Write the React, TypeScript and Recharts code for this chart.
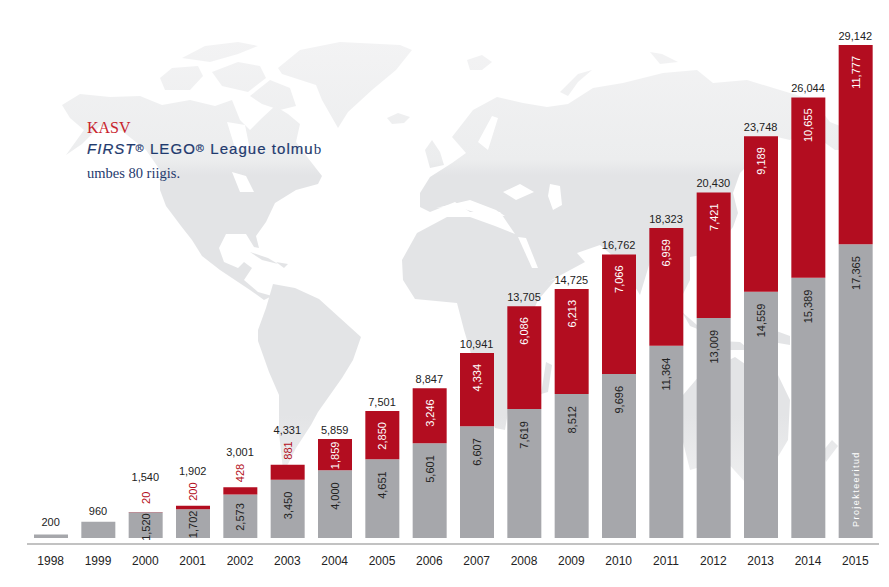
import { ComposedChart, Bar, Line, XAxis, YAxis, LabelList } from 'recharts';

const years = ['1998', '1999', '2000', '2001', '2002', '2003', '2004', '2005', '2006', '2007', '2008', '2009', '2010', '2011', '2012', '2013', '2014', '2015'];
const existing = [200, 960, 1520, 1702, 2573, 3450, 4000, 4651, 5601, 6607, 7619, 8512, 9696, 11364, 13009, 14559, 15389, 17365];
const growth = [0, 0, 20, 200, 428, 881, 1859, 2850, 3246, 4334, 6086, 6213, 7066, 6959, 7421, 9189, 10655, 11777];
const totals = [200, 960, 1540, 1902, 3001, 4331, 5859, 7501, 8847, 10941, 13705, 14725, 16762, 18323, 20430, 23748, 26044, 29142];
const notes = ['', '', '', '', '', '', '', '', '', '', '', '', '', '', '', '', '', 'Projekteeritud'];

const chartData = years.map((year, i) => ({
  year,
  existing: existing[i],
  growth: growth[i],
  total: totals[i],
  note: notes[i],
}));

const GREY = '#a6a7ab';
const RED = '#b30d20';
const INK = '#222222';
const SANS = '"Liberation Sans", Arial, sans-serif';
const SERIF = '"Liberation Serif", "Times New Roman", serif';

// background map, only a rough trace of the continents
const land = [
  // North and Central America
  'M62 105L80 94L110 97L140 96L162 105L190 100L215 106L232 100L240 120L250 130L262 118L275 106L288 114L300 124L296 142L308 158L322 176L318 184L296 190L275 203L266 222L256 236L259 248L254 247L246 234L226 234L219 248L224 262L238 268L244 262L252 268L244 280L258 292L272 296L264 300L250 290L238 282L220 270L202 256L192 240L181 226L166 206L160 190L160 170L146 150L122 131L100 126L82 144L66 155L84 130L70 118Z',
  // Canadian arctic islands
  'M160 78L172 68L198 66L203 76L190 90L165 90Z',
  'M182 58L205 46L238 42L258 46L238 54L210 62Z',
  'M212 72L238 62L260 66L266 78L248 92L222 86Z',
  'M250 96L270 80L290 88L296 106L280 110L262 104Z',
  // Cuba and Hispaniola
  'M250 252L268 258L278 264L262 260Z',
  'M276 262L288 264L284 268Z',
  // Greenland
  'M278 68L300 50L340 42L400 45L412 50L396 70L372 90L348 112L338 128L322 100L316 85L282 74Z',
  // Iceland
  'M387 118L398 113L410 117L404 123L392 124Z',
  // South America
  'M258 330L266 308L273 284L295 288L319 299L340 318L361 337L353 360L342 378L330 395L318 412L311 425L296 448L288 464L283 470L279 433L279 395L269 372L258 341Z',
  // Europe, Asia and Africa
  'M420 207L420 193L430 177L452 163L466 153L452 137L473 110L497 97L523 103L547 107L568 104L593 88L623 83L663 73L697 70L713 83L747 80L780 90L813 100L830 122L850 130L860 150L835 150L807 130L790 140L777 137L758 155L740 173L733 193L738 213L733 227L713 253L690 257L690 280L680 300L668 282L650 262L640 295L620 262L600 245L577 253L585 262L548 282L557 278L538 300L520 340L522 365L510 400L505 430L495 428L480 392L470 350L464 330L457 303L415 299L403 280L402 260L417 233L447 217L470 217L495 226L515 234L500 212L470 212L455 202L430 212Z',
  // British Isles
  'M425 150L432 140L440 152L444 165L430 168Z',
  // Svalbard and Novaya Zemlya
  'M467 60L482 55L492 62L482 70L470 70Z',
  'M650 52L662 54L678 62L660 64Z',
  'M560 92L578 74L592 70L578 82L568 96Z',
  // Madagascar
  'M546 362L552 365L548 392L541 394Z',
  // Japan
  'M760 190L768 185L770 205L752 222L745 222L755 212Z',
  // Indonesia and Philippines
  'M682 312L705 332L690 326Z',
  'M700 340L740 342L750 350L712 350Z',
  'M718 286L726 288L730 312L720 310Z',
  'M752 322L790 336L790 345L760 340Z',
  // Australia
  'M683 395L700 375L735 357L745 364L766 350L790 400L788 440L770 470L745 482L725 460L690 470L680 430Z',
  // New Zealand
  'M822 452L832 440L838 446L826 462Z',
];

// seas cut back out of the land
const water = [
  'M436 208L470 200L496 210L505 216L480 214L455 206Z', // Mediterranean
  'M503 192L520 184L534 192L516 200Z', // Black Sea
  'M550 184L560 186L562 205L553 210L548 196Z', // Caspian
  'M518 237L526 238L538 268L532 268Z', // Red Sea
  'M478 142L492 116L498 118L488 150Z', // Baltic
  'M232 172L246 176L254 192L240 192Z', // Great Lakes
  'M227 122L245 125L250 150L235 148Z', // Hudson Bay
];

function WorldMap() {
  return (
    <svg width={889} height={587} style={{ position: 'absolute', left: 0, top: 0 }}>
      <defs>
        <linearGradient id="landFade" gradientUnits="userSpaceOnUse" x1="0" y1="40" x2="0" y2="540">
          <stop offset="0" stopColor="#f3f3f4" />
          <stop offset="0.24" stopColor="#ecedee" />
          <stop offset="0.27" stopColor="#e3e4e6" />
          <stop offset="0.75" stopColor="#e3e4e6" />
          <stop offset="1" stopColor="#f7f7f7" />
        </linearGradient>
      </defs>
      {land.map((d) => (
        <path key={d} d={d} fill="url(#landFade)" />
      ))}
      {water.map((d) => (
        <path key={d} d={d} fill="#ffffff" />
      ))}
      <text x={87} y={133} fontFamily={SERIF} fontSize={16} fill="#c8232c">KASV</text>
      <text x={87} y={154} fontFamily={SANS} fontSize={15} fill="#1f3a6e" stroke="#1f3a6e" strokeWidth={0.2} letterSpacing={1.05}>
        <tspan fontStyle="italic">FIRST</tspan>
        <tspan fontSize={11} dy={-2}>®</tspan>
        <tspan dy={2}> LEGO</tspan>
        <tspan fontSize={11} dy={-2}>®</tspan>
        <tspan dy={2}> League tolmu</tspan>
        <tspan fontFamily={SERIF} stroke="none" letterSpacing={0}>b</tspan>
      </text>
      <text x={87} y={178} fontFamily={SERIF} fontSize={14.5} fill="#1f3a6e">umbes 80 riigis.</text>
    </svg>
  );
}

function upright(x: number, y: number, text: string, fill: string, anchor = 'end') {
  return (
    <text
      x={x}
      y={y}
      transform={`rotate(-90 ${x} ${y})`}
      textAnchor={anchor}
      dominantBaseline="central"
      fontFamily={SANS}
      fontSize={11}
      fill={fill}
    >
      {text}
    </text>
  );
}

// value sits near the top of its block, centred when the block is short
const insetFor = (height: number, text: string, most: number) =>
  Math.min(most, Math.max(1, (height - text.length * 5.2) / 2));

function ExistingLabel({ x, y, width, height, value }: any) {
  if (value < 1000) return null;
  const text = Number(value).toLocaleString('en-US');
  return upright(x + width / 2, y + insetFor(height, text, 12), text, INK);
}

// zero height blocks get dropped by the bar, so go by value and not by index here
function GrowthLabel({ x, y, width, height, value }: any) {
  if (!value) return null;
  const text = Number(value).toLocaleString('en-US');
  if (value < 1000) return upright(x + width / 2, y - (value < 100 ? 8 : 5), text, RED, 'start');
  return upright(x + width / 2, y + insetFor(height, text, 11), text, '#ffffff');
}

function TotalLabel({ x, y, index, value }: any) {
  let gap = 5;
  if (index === 0) gap = 9;
  else if (index === 1) gap = 7;
  else if (growth[index] < 1000) gap = 31;
  return (
    <text x={x} y={y - gap} textAnchor="middle" fontFamily={SANS} fontSize={11} fill={INK}>
      {Number(value).toLocaleString('en-US')}
    </text>
  );
}

function NoteLabel({ x, y, width, height, value }: any) {
  if (!value) return null;
  const bx = x + width / 2;
  const by = y + height - 11;
  return (
    <text
      x={bx}
      y={by}
      transform={`rotate(-90 ${bx} ${by})`}
      dominantBaseline="central"
      fontFamily={SANS}
      fontSize={9}
      letterSpacing={1.45}
      fill="#ffffff"
    >
      {value}
    </text>
  );
}

export default function App() {
  return (
    <div style={{ position: 'absolute', left: 0, top: 0, width: 889, height: 587, background: '#fff' }}>
      <WorldMap />
      <div style={{ position: 'absolute', left: 0, top: 0 }}>
        <ComposedChart width={889} height={587} data={chartData} margin={{ top: 14, right: 10, bottom: 0, left: 27 }} barSize={34}>
          <XAxis
            dataKey="year"
            height={43}
            interval={0}
            tickLine={false}
            axisLine={{ stroke: '#858585', strokeWidth: 1.2 }}
            tick={{ fontSize: 12, fontFamily: SANS, fill: INK }}
            tickMargin={6}
          />
          <YAxis hide domain={[-355, 30974]} allowDataOverflow />
          <Bar dataKey="existing" stackId="teams" fill={GREY} isAnimationActive={false}>
            <LabelList dataKey="existing" content={ExistingLabel} />
            <LabelList dataKey="note" content={NoteLabel} />
          </Bar>
          <Bar dataKey="growth" stackId="teams" fill={RED} isAnimationActive={false}>
            <LabelList dataKey="growth" content={GrowthLabel} />
          </Bar>
          <Line dataKey="total" stroke="none" dot={false} activeDot={false} isAnimationActive={false}>
            <LabelList dataKey="total" content={TotalLabel} />
          </Line>
        </ComposedChart>
      </div>
    </div>
  );
}
